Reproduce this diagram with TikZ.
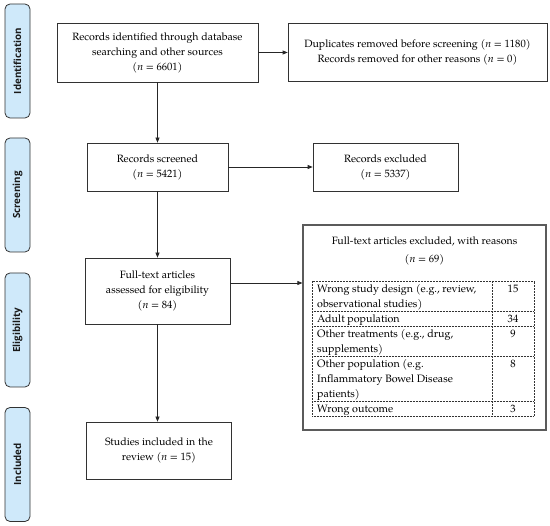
\documentclass[tikz,border=0pt]{standalone}
\usepackage{fontspec}
\setmainfont{texgyrepagella}[Extension=.otf,UprightFont=*-regular,ItalicFont=*-italic,BoldFont=*-bold,BoldItalicFont=*-bolditalic]
\newfontfamily\sidefont{Open Sans}
\usetikzlibrary{arrows.meta,calc}
\definecolor{sideblue}{RGB}{207,233,250}
\definecolor{edge}{RGB}{50,50,50}
\begin{document}
\begin{tikzpicture}[x=1pt,y=-1pt,
  box/.style={draw=edge, line width=0.7pt, align=center, inner sep=0pt, font=\fontsize{10.6}{15}\selectfont},
  side/.style={draw=edge, fill=sideblue, rounded corners=5pt, line width=0.8pt, rotate=90,
    minimum width=114pt, minimum height=25pt, inner sep=0pt, text=black!90, font=\sidefont\bfseries\fontsize{9.8}{11}\selectfont},
  arr/.style={-{Triangle[length=5pt,width=4pt]}, line width=0.7pt, draw=black!85},
  tbl/.style={densely dotted, line width=0.5pt, draw=black!80},
  cell/.style={anchor=north west, align=left, inner sep=0pt, font=\fontsize{10.7}{15}\selectfont},
  num/.style={anchor=north, align=center, inner sep=0pt, font=\fontsize{10.7}{15}\selectfont}
]
\useasboundingbox (0,0) rectangle (550,526);
% side labels
\node[side] (sid) at (17.5,61) {Identification};
\node[side] (ssc) at (17.5,195) {Screening};
\node[side] (sel) at (17.5,330) {Eligibility};
\node[side] (sin) at (17.5,464.5) {Included};
% main boxes
\node[box, minimum width=201pt, minimum height=59pt] (b1) at (157.5,52.5)
  {Records identified through database\\searching and other sources\\(\textit{n} = 6601)};
\node[box, minimum width=259pt, minimum height=58pt] (dup) at (417.5,52.5)
  {Duplicates removed before screening (\textit{n} = 1180)\\Records removed for other reasons (\textit{n} = 0)};
\node[box, minimum width=141pt, minimum height=48pt] (scr) at (157.5,167)
  {Records screened\\(\textit{n} = 5421)};
\node[box, minimum width=145pt, minimum height=48pt] (rex) at (385.5,167)
  {Records excluded\\(\textit{n} = 5337)};
\node[box, minimum width=145pt, minimum height=66pt] (ft) at (157.5,291)
  {Full-text articles\\assessed for eligibility\\(\textit{n} = 84)};
\node[box, minimum width=145pt, minimum height=57pt] (inc) at (159,450.5)
  {Studies included in the\\review (\textit{n} = 15)};
% excluded box
\node[draw=edge!80, line width=1.2pt, minimum width=243pt, minimum height=205pt, inner sep=0pt] (exc) at (424.5,327.5) {};
\node[align=center, inner sep=0pt, font=\fontsize{10.6}{17.5}\selectfont] (ttl) at (424.5,251)
  {Full-text articles excluded, with reasons\\(\textit{n} = 69)};
% table
\draw[tbl] (312,281) rectangle (534,416);
\draw[tbl] (492,281) -- (492,416);
\foreach \yy in {311,326,356,401} \draw[tbl] (312,\yy) -- (534,\yy);
\node[cell] (c1) at (317,281.5) {\strut Wrong study design (e.g., review,\\observational studies)};
\node[num] (n1) at (513,281.5) {\strut 15};
\node[cell] (c2) at (317,311.5) {\strut Adult population};
\node[num] (n2) at (513,311.5) {\strut 34};
\node[cell] (c3) at (317,326.5) {\strut Other treatments (e.g., drug,\\supplements)};
\node[num] (n3) at (513,326.5) {\strut 9};
\node[cell] (c4) at (317,356.5) {\strut Other population (e.g.\\Inflammatory Bowel Disease\\patients)};
\node[num] (n4) at (513,356.5) {\strut 8};
\node[cell] (c5) at (317,401.5) {\strut Wrong outcome};
\node[num] (n5) at (513,401.5) {\strut 3};
% connectors
\draw[arr] (b1.east) -- (dup.west);
\draw[arr] (b1.south) -- (scr.north);
\draw[arr] (scr.east) -- (rex.west);
\draw[arr] (scr.south) -- (ft.north);
\draw[arr] ([yshift=8pt]ft.east) -- ([yshift=8pt]ft.east -| exc.west);
\draw[arr] (ft.south) -- (ft.south |- inc.north);
\end{tikzpicture}
\end{document}
